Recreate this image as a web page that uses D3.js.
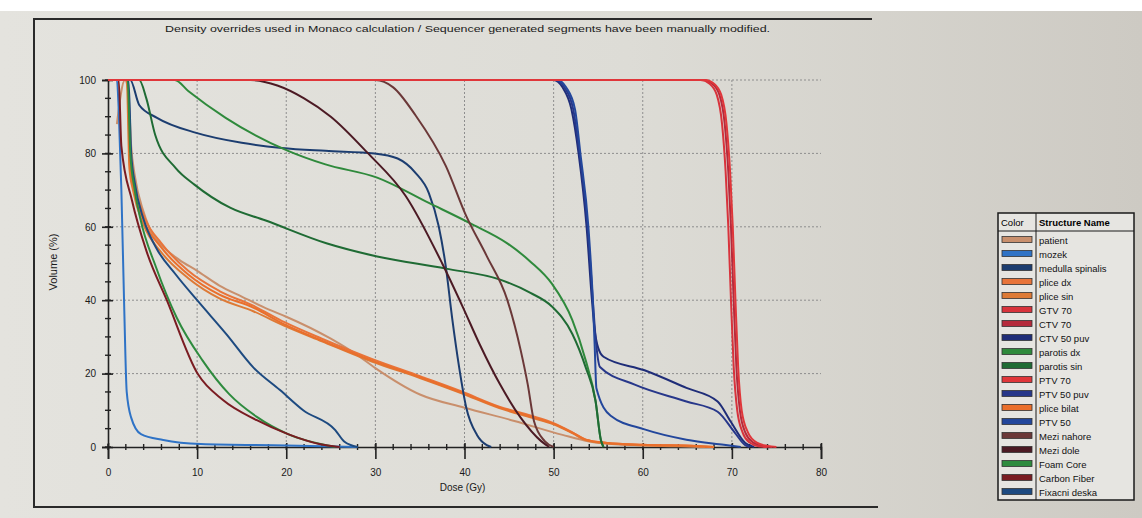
<!DOCTYPE html>
<html>
<head>
<meta charset="utf-8">
<script src="https://cdn.jsdelivr.net/npm/d3@7"></script>
<style>
  html, body { margin: 0; padding: 0; }
  body { width: 1142px; height: 518px; overflow: hidden; background: #fff; }
  svg text { font-family: "Liberation Sans", Arial, sans-serif; }
</style>
</head>
<body>
<div id="chart"></div>
<script>
// tick labels
var doseTicks = [0, 10, 20, 30, 40, 50, 60, 70, 80];
var volumeTicks = [0, 20, 40, 60, 80, 100];

var titleText = "Density overrides used in Monaco calculation / Sequencer generated segments have been manually modified.";

// structures, in legend order
var structureNames = ["patient", "mozek", "medulla spinalis", "plice dx", "plice sin", "GTV 70", "CTV 70",
  "CTV 50 puv", "parotis dx", "parotis sin", "PTV 70", "PTV 50 puv", "plice bilat", "PTV 50",
  "Mezi nahore", "Mezi dole", "Foam Core", "Carbon Fiber", "Fixacni deska"];

var structureColors = ["#c98f6c", "#2f73c6", "#1c3d70", "#e8743a", "#dd7a36", "#d8333c", "#b52a3c",
  "#1f2d78", "#2f8a3c", "#1f6b34", "#e0363a", "#27378a", "#ea6f2c", "#23479c",
  "#6b3838", "#4c1a24", "#2e8b3e", "#7a1c22", "#1d4a80"];

// DVH curves: [dose Gy, volume %]
var patient = [[1.0,88],[1.9,100],[2.3,96],[2.6,82],[3.0,74],[4,64],[5,58],[6,55],[8,51],[10,48],[12.5,44],[15,41],[18,37.5],[20,35.5],[25,29.5],[28,25],[30,21.5],[35,14.3],[40,10.7],[45.6,7.1],[51,3.3],[54,1.5],[58,0.6],[64,0.2],[67,0]];
var mozek = [[0,100],[1.0,100],[1.2,92],[1.5,70],[1.8,40],[2.1,15],[2.6,8],[3.7,3.5],[6.2,1.9],[10.4,0.8],[20,0.4],[28,0]];
var medullaSpinalis = [[0,100],[2.5,100],[3.5,93.2],[5.5,89.7],[9.9,85.6],[15,82.9],[19.5,81.5],[24.4,80.7],[29.9,80],[32.5,78.6],[34.5,74.7],[36,69.2],[37.1,60.2],[37.9,49.2],[38.6,35.4],[39.4,21.7],[40.2,10.7],[41.4,3.3],[42.5,0.5],[43,0]];
var pliceDx = [[0,100],[2.2,100],[2.5,78],[2.9,72],[4.1,62.5],[6,55.5],[9,48],[12.5,42.5],[16.3,38.5],[19.8,34],[24,29.5],[29.6,24],[35,19.3],[39.6,15.2],[43.9,11],[47.5,8.5],[50,6.5],[52.1,4],[53.6,2],[56,1.1],[60,0.6],[66,0.3],[68,0]];
var pliceSin = [[0,100],[2.1,100],[2.4,76],[2.8,70],[4,60.5],[6,53],[9,46],[12.5,40.5],[16.3,37],[19.8,33],[24,28.8],[29.6,23.3],[35,18.8],[39.6,14.7],[43.9,10.6],[47.5,8],[50,6.2],[52.1,3.8],[53.6,1.9],[56,1],[60,0.5],[66,0.2],[68,0]];
var gtv70 = [[0,100],[66.5,100],[67.5,99],[68.3,96],[68.9,88],[69.3,75],[69.6,60],[69.9,40],[70.2,22],[70.6,10],[71.2,4],[72,1.2],[73,0.2],[74,0]];
var ctv70 = [[0,100],[66.8,100],[67.8,99],[68.6,96],[69.2,88],[69.6,75],[69.9,60],[70.2,40],[70.5,22],[70.9,10],[71.5,4],[72.4,1.2],[73.5,0.2],[74.5,0]];
var ctv50puv = [[0,100],[50,100],[51,98],[52,92],[52.8,80],[53.7,60],[54.3,40],[54.6,32],[55,27],[55.6,24.6],[60.2,20.9],[64.9,16.1],[68.4,12.4],[69.9,6.8],[71.5,1.1],[72.5,0]];
var parotisDx = [[0,100],[7.5,100],[9,97],[13.2,89.7],[20.2,80.7],[24.4,77],[30.2,73.4],[36,66.5],[40.6,61],[44.8,55.5],[47.4,50.5],[49.8,44.5],[52.1,34.6],[53.6,23.6],[54.7,12.6],[55.3,1.9],[55.6,0]];
var parotisSin = [[0,100],[3.5,100],[4.3,95],[5.3,85],[7.6,76],[9.7,71.5],[13.7,65.2],[17.7,61.7],[24.5,55.5],[30.2,51.9],[37.9,48.6],[44,45.6],[47.4,42],[49.8,38.3],[52.1,30.8],[53.6,21.7],[54.7,12.6],[55.3,1.9],[55.6,0]];
var ptv70 = [[0,100],[67,100],[68,99],[68.8,96],[69.4,88],[69.8,75],[70.1,60],[70.4,40],[70.7,22],[71.1,10],[71.8,4],[72.8,1.2],[74,0.3],[75,0]];
var ptv50puv = [[0,100],[50.2,100],[51.2,98],[52.2,92],[52.9,80],[53.8,60],[54.4,40],[54.7,30],[55.2,21.8],[59.1,17],[64.9,12.4],[68.4,9.6],[70.3,4],[71.5,0.5],[72,0]];
var pliceBilat = [[0,100],[2.2,100],[2.45,77],[2.85,71],[4.05,61.5],[6,54.3],[9,47],[12.5,41.5],[16.3,38],[19.8,33.4],[24,29],[29.6,23.6],[35,19],[39.6,14.9],[43.9,10.8],[47.5,8.2],[50,6.3],[52.1,3.9],[53.6,2],[56,1.1],[60,0.6],[66,0.3],[68,0]];
var ptv50 = [[0,100],[50.4,100],[51.4,98],[52.4,92],[53,80],[53.9,60],[54.4,40],[54.6,28],[54.8,16],[56.4,8.5],[60.2,4.8],[64.9,2],[69.1,0.6],[71,0]];
var meziNahore = [[0,100],[30,100],[32,98],[34.5,90.4],[37.9,76.6],[40.2,62.9],[42.5,52],[44.8,40.1],[46.3,26.4],[47.1,17],[47.8,7],[49,1.6],[50,0]];
var meziDole = [[0,100],[16,100],[19,98.5],[22,95],[25,90],[29.1,80.2],[33.4,68.4],[37.5,50],[39.8,38.2],[41.7,28],[44,17],[46.3,8],[48.6,1.6],[49.5,0]];
var foamCore = [[0,100],[2.2,100],[2.5,80],[3,70],[3.6,62.5],[5.4,48.9],[7.7,35.3],[10.6,23.6],[13.6,14.4],[16.7,8.2],[20.2,3.5],[25.5,0]];
var carbonFiber = [[0,100],[1.2,100],[1.5,82],[2.7,67.1],[4.3,53.5],[6.6,40],[10.1,19.8],[12.9,12.8],[16.7,7.3],[20.2,3.5],[23.7,0.8],[26,0]];
var fixacniDeska = [[0,100],[2.3,100],[2.6,80],[3,72],[4,62],[5.4,54.3],[7.6,47],[10,40],[13.3,30.7],[16.3,21.7],[19.3,15.5],[21.9,10],[25.5,4.6],[26.5,1.5],[28,0]];

var structureCurves = [patient, mozek, medullaSpinalis, pliceDx, pliceSin, gtv70, ctv70,
  ctv50puv, parotisDx, parotisSin, ptv70, ptv50puv, pliceBilat, ptv50,
  meziNahore, meziDole, foamCore, carbonFiber, fixacniDeska];

// red targets go on top so the 100% line reads red
var drawOrder = [0, 3, 4, 12, 1, 2, 18, 16, 17, 8, 9, 14, 15, 7, 11, 13, 6, 5, 10];

var W = 1142, H = 518;

var svg = d3.select("#chart")
  .append("svg")
    .attr("width", W)
    .attr("height", H);

// paper background
var grad = svg.append("defs").append("linearGradient")
    .attr("id", "paper").attr("x1", "0").attr("x2", "1").attr("y1", "0").attr("y2", "0");
grad.append("stop").attr("offset", "0").attr("stop-color", "#e4e3de");
grad.append("stop").attr("offset", "0.55").attr("stop-color", "#dddcd6");
grad.append("stop").attr("offset", "1").attr("stop-color", "#cdcac3");
svg.append("rect").attr("x", 0).attr("y", 11).attr("width", W).attr("height", H - 11)
    .attr("fill", "url(#paper)");

// page frame (top, left, bottom)
svg.append("path")
    .attr("d", "M872,19 L34,19 L34,507 L878,507")
    .attr("fill", "none").attr("stroke", "#2a2a2a").attr("stroke-width", 2);

svg.append("text")
    .attr("x", 165).attr("y", 32)
    .attr("font-size", 9).attr("fill", "#1a1a1a")
    .attr("textLength", 605).attr("lengthAdjust", "spacingAndGlyphs")
    .text(titleText);

var x = d3.scaleLinear().domain([0, 80]).range([108, 821]);
var y = d3.scaleLinear().domain([0, 100]).range([447, 80]);

// grid
var grid = svg.append("g").attr("stroke", "#8e8e8e").attr("stroke-width", 1).attr("stroke-dasharray", "2,2");
grid.selectAll("line.v").data(doseTicks.slice(1, -1)).enter().append("line")
    .attr("x1", function(d) { return x(d); }).attr("x2", function(d) { return x(d); })
    .attr("y1", y(100)).attr("y2", y(0));
grid.selectAll("line.h").data(volumeTicks.slice(1)).enter().append("line")
    .attr("x1", x(0)).attr("x2", x(80))
    .attr("y1", function(d) { return y(d); }).attr("y2", function(d) { return y(d); });

// X axis
var xAxis = svg.append("g")
    .attr("transform", "translate(0," + y(0) + ")")
    .call(d3.axisBottom(x).tickValues(doseTicks).tickSize(12).tickPadding(10));
xAxis.select(".domain").attr("stroke", "#222").attr("stroke-width", 1.6);
xAxis.selectAll(".tick line").attr("y1", -4).attr("stroke", "#222").attr("stroke-width", 1.6);
xAxis.selectAll(".tick text").attr("font-size", 10).attr("fill", "#1a1a1a");
xAxis.selectAll("line.minor").data(x.ticks(40)).enter().append("line")
    .attr("class", "minor")
    .attr("x1", function(d) { return x(d); }).attr("x2", function(d) { return x(d); })
    .attr("y1", -3).attr("y2", 3).attr("stroke", "#222").attr("stroke-width", 1.4);

// Y axis
var yAxis = svg.append("g")
    .attr("transform", "translate(" + x(0) + ",0)")
    .call(d3.axisLeft(y).tickValues(volumeTicks).tickSize(6).tickPadding(6));
yAxis.select(".domain").attr("stroke", "#222").attr("stroke-width", 1.6);
yAxis.selectAll(".tick line").attr("x1", 5).attr("stroke", "#222").attr("stroke-width", 1.6);
yAxis.selectAll(".tick text").attr("font-size", 10).attr("fill", "#1a1a1a");
yAxis.selectAll("line.minor").data(y.ticks(25)).enter().append("line")
    .attr("class", "minor")
    .attr("y1", function(d) { return y(d); }).attr("y2", function(d) { return y(d); })
    .attr("x1", -3).attr("x2", 3).attr("stroke", "#222").attr("stroke-width", 1.4);

svg.append("text")
    .attr("x", x(40) - 2).attr("y", 491)
    .attr("text-anchor", "middle").attr("font-size", 10).attr("fill", "#1a1a1a")
    .text("Dose (Gy)");
svg.append("text")
    .attr("transform", "translate(57,262) rotate(-90)")
    .attr("text-anchor", "middle").attr("font-size", 11).attr("fill", "#1a1a1a")
    .text("Volume (%)");

// curves
var line = d3.line()
    .x(function(d) { return x(d[0]); })
    .y(function(d) { return y(d[1]); })
    .curve(d3.curveMonotoneX);

svg.append("g").selectAll("path")
  .data(drawOrder)
  .enter().append("path")
    .attr("fill", "none")
    .attr("stroke", function(i) { return structureColors[i]; })
    .attr("stroke-width", 2)
    .attr("stroke-linejoin", "round")
    .attr("d", function(i) { return line(structureCurves[i]); });

// legend table
var lg = svg.append("g").attr("transform", "translate(998,213)");
var rowH = 14, headH = 18, lgW = 136, colW = 38;
var lgH = headH + rowH * structureNames.length + 3;
lg.append("rect").attr("width", lgW).attr("height", lgH)
    .attr("fill", "#e6e5e1").attr("stroke", "#1a1a1a").attr("stroke-width", 1.5);
lg.append("line").attr("x1", 0).attr("x2", lgW).attr("y1", headH).attr("y2", headH)
    .attr("stroke", "#1a1a1a").attr("stroke-width", 1);
lg.append("line").attr("x1", colW).attr("x2", colW).attr("y1", 0).attr("y2", lgH)
    .attr("stroke", "#1a1a1a").attr("stroke-width", 1);
lg.append("text").attr("x", 3).attr("y", 13).attr("font-size", 9.5).text("Color");
lg.append("text").attr("x", colW + 3).attr("y", 13).attr("font-size", 9.5).attr("font-weight", "bold")
    .text("Structure Name");

var rows = lg.selectAll("g.row").data(structureNames).enter().append("g")
    .attr("transform", function(d, i) { return "translate(0," + (headH + 2 + i * rowH) + ")"; });
rows.append("rect")
    .attr("x", 4).attr("y", 3.5).attr("width", 30).attr("height", 6)
    .attr("fill", function(d, i) { return structureColors[i]; })
    .attr("stroke", "#333").attr("stroke-width", 0.8);
rows.append("text")
    .attr("x", colW + 3).attr("y", 10.5)
    .attr("font-size", 9.5).attr("fill", "#111")
    .text(function(d) { return d; });
</script>
</body>
</html>
